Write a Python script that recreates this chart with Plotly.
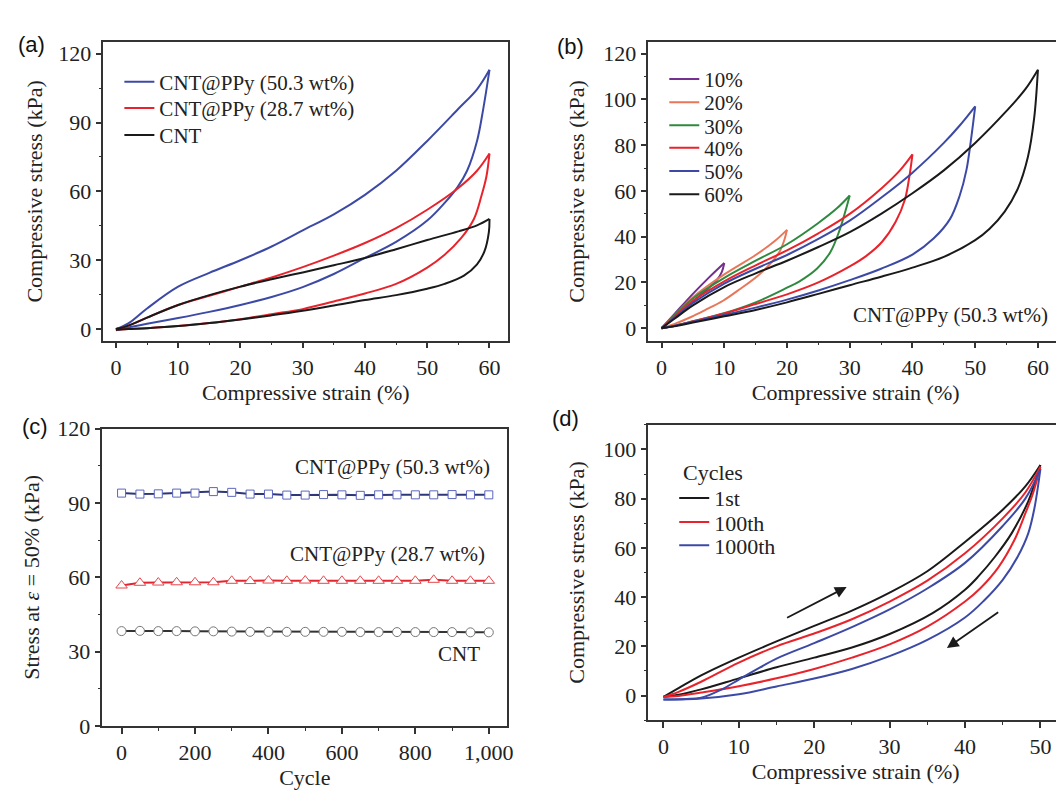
import plotly.graph_objects as go

# ---------------- Panel (a): strain (%) vs stress (kPa) ----------------
a_load_x = [0, 2, 5, 10, 15, 20, 25, 30, 35, 40, 45, 50, 55, 58, 60]
a_blue_load_y = [0, 2.5, 9, 18.5, 24.5, 30, 36, 43, 50, 58.5, 69, 82, 96, 104.5, 113]
a_red_load_y = [0, 1.5, 5, 10.5, 14.5, 18.5, 22.5, 27, 32, 37.5, 44, 52, 61.5, 69, 76.5]
a_black_load_y = [0, 1.5, 5, 10.5, 14.8, 18.5, 21.7, 24.7, 27.8, 31, 34.8, 38.8, 42.6, 45.2, 48]

a_blue_unload_x = [60, 59, 58, 56.4, 54.9, 52.8, 50, 45, 40, 35, 30, 25, 20, 15, 10, 5, 2, 0]
a_blue_unload_y = [113, 96, 82, 69, 62, 55, 47.3, 38, 31, 24, 18.3, 14, 10.5, 7.5, 4.8, 2.3, 0.7, -0.5]
a_red_unload_x = [60, 59.5, 58.7, 57.5, 55.4, 52.8, 50, 45, 40, 35, 30, 25, 20, 15, 10, 5, 2, 0]
a_red_unload_y = [76.5, 66.4, 58, 48, 39.5, 32.4, 26.8, 19.7, 15.5, 12, 8.7, 6.5, 4.3, 2.6, 1.3, 0.4, 0, -0.3]
a_black_unload_x = [60, 59.9, 59.2, 58, 55.9, 52.8, 50, 45, 40, 35, 30, 25, 20, 15, 10, 5, 2, 0]
a_black_unload_y = [48, 42.3, 34, 28.2, 23.3, 19.7, 17.6, 14.8, 12.7, 10.3, 8, 6, 4.2, 2.6, 1.3, 0.4, 0, -0.3]
a_names = ["CNT@PPy (50.3 wt%)", "CNT@PPy (28.7 wt%)", "CNT"]

# ---------------- Panel (b): different strain levels ----------------
b_names = ["10%", "20%", "30%", "40%", "50%", "60%"]
b10_load_x = [0, 2, 5, 7.5, 10]
b10_load_y = [0, 6, 15, 22, 28.5]
b10_unload_x = [10, 9.6, 8.8, 7.5, 6, 4.5, 3, 1.5, 0]
b10_unload_y = [28.5, 24.5, 21, 17.5, 14, 10.5, 7, 3.5, 0]
b20_load_x = [0, 2, 5, 10, 15, 18, 20]
b20_load_y = [0, 5.5, 13.5, 23.5, 32, 38, 43]
b20_unload_x = [20, 19.6, 18.9, 17.6, 15.5, 12.4, 9.8, 7, 4.7, 2, 0]
b20_unload_y = [43, 38.8, 33.9, 29, 23.3, 16.9, 12, 8, 4.9, 1.8, 0]
b30_load_x = [0, 2, 5, 10, 15, 20, 25, 28, 30]
b30_load_y = [0, 5.5, 13, 22, 29.5, 36.7, 46, 52.5, 58]
b30_unload_x = [30, 29.5, 28.4, 26.9, 24.8, 22, 20, 15, 9.8, 4.7, 2, 0]
b30_unload_y = [58, 53, 43, 33.2, 26.1, 20.5, 17.7, 11.3, 6.4, 2.8, 1, 0]
b40_load_x = [0, 2, 5, 10, 15, 20, 25, 30, 35, 38, 40]
b40_load_y = [0, 5, 12, 20.5, 27.5, 34, 41.5, 50, 61, 69, 76]
b40_unload_x = [40, 39.5, 38.8, 37.3, 35.2, 32.6, 30, 25, 20, 15, 10, 5, 2, 0]
b40_unload_y = [76, 66.2, 56.3, 46.4, 37.9, 31.5, 27, 20, 14.8, 10.6, 6.4, 3, 1, 0]
b50_load_x = [0, 2, 5, 10, 15, 20, 25, 30, 35, 40, 45, 47.5, 50]
b50_load_y = [0, 4.5, 11, 19.5, 26, 32, 39, 47, 57, 68, 81, 88.5, 97]
b50_unload_x = [50, 49.3, 48.6, 47.5, 46, 43.4, 40, 35, 30, 25, 20, 15, 10, 5, 2, 0]
b50_unload_y = [97, 81.8, 69.1, 57.7, 47.8, 39.3, 32.2, 26, 21, 16.5, 12.5, 9, 5.8, 2.8, 1, 0]
b60_load_x = [0, 2, 5, 10, 15, 20, 25, 30, 35, 40, 45, 50, 55, 58, 60]
b60_load_y = [0, 4, 10, 18, 24, 29.5, 35.5, 42, 50, 59, 69, 81, 95, 104.5, 113]
b60_unload_x = [60, 59.4, 58.4, 56.8, 54.7, 52.3, 50, 45, 40, 35, 30, 25, 20, 15, 10, 5, 2, 0]
b60_unload_y = [113, 91.8, 74.8, 61, 51, 43.5, 38.5, 31.2, 26.5, 22.5, 18.8, 15, 11.3, 8, 5.2, 2.5, 0.8, 0]

# ---------------- Panel (c): stress at 50% strain vs cycle ----------------
c_cycles = [0, 50, 100, 150, 200, 250, 300, 350, 400, 450, 500,
            550, 600, 650, 700, 750, 800, 850, 900, 950, 1000]
c_blue = [94.0, 93.6, 93.7, 94.0, 94.0, 94.6, 94.3, 93.6, 93.6, 93.2, 93.2,
          93.4, 93.3, 93.1, 93.3, 93.3, 93.3, 93.3, 93.4, 93.3, 93.3]
c_red = [56.7, 57.8, 57.9, 58.0, 58.0, 58.0, 58.6, 58.5, 58.7, 58.6, 58.7,
         58.6, 58.6, 58.6, 58.6, 58.6, 58.6, 59.0, 58.6, 58.6, 58.6]
c_black = [38.3, 38.4, 38.3, 38.3, 38.2, 38.2, 38.1, 38.0, 38.0, 38.0, 38.0,
           38.0, 38.0, 37.9, 37.9, 37.9, 37.9, 37.9, 37.9, 37.8, 37.8]
c_labels = ["CNT@PPy (50.3 wt%)", "CNT@PPy (28.7 wt%)", "CNT"]
c_label_x = [1008, 995, 982]
c_label_y = [104.5, 69.3, 28.9]

# ---------------- Panel (d): cycles 1st / 100th / 1000th ----------------
d_names = ["1st", "100th", "1000th"]
d_black_load_x = [0, 2, 5, 10, 15, 20, 25, 30, 35, 40, 45, 48, 50]
d_black_load_y = [-0.5, 3, 8.2, 15.4, 22, 28.3, 34.5, 41.8, 50.5, 62.4, 75.5, 85, 93.7]
d_black_unload_x = [50, 49, 48.4, 46.2, 44, 41.8, 40, 35.7, 30, 25, 20, 15, 10, 5, 2, 0]
d_black_unload_y = [93.7, 84, 79, 66, 56.5, 48.5, 43, 33.5, 25, 19.5, 15.4, 11.5, 7, 2.5, 0.3, -0.5]
d_red_load_x = [0, 2, 5, 10, 15, 20, 25, 30, 35, 40, 45, 48, 50]
d_red_load_y = [-0.6, 1.5, 5.6, 13.4, 20, 25.2, 31, 38.2, 46.7, 57.8, 72, 82.5, 93]
d_red_unload_x = [50, 49, 48, 46.6, 44.4, 42, 40, 35, 30, 25, 20, 15, 10, 5, 2, 0]
d_red_unload_y = [93, 82, 74, 63.5, 52, 43.5, 38.2, 28, 20.8, 15.4, 10.8, 7, 3.8, 1.2, -0.2, -0.6]
d_blue_load_x = [0, 3, 5, 7.6, 10, 12, 15, 20, 25, 30, 35, 40, 45, 48, 50]
d_blue_load_y = [-1.6, -1.4, -0.9, 2.3, 6.5, 10, 15, 21.3, 27.8, 35, 43.5, 53.9, 68.9, 80, 92]
d_blue_unload_x = [50, 49.2, 48.4, 47, 45, 42.5, 40, 35, 30, 25, 20, 15, 10, 5, 0]
d_blue_unload_y = [92, 76, 66, 56.5, 47, 38.5, 31.7, 22.6, 16, 10.8, 6.9, 3.7, 0.5, -1.2, -1.6]
d_arrow_tail_x = [16.2, 44.6]
d_arrow_tail_y = [31.3, 34.3]
d_arrow_head_x = [24.3, 37.6]
d_arrow_head_y = [44.1, 19.3]

# ---------------- styling ----------------
SERIF = "Liberation Serif"
SANS = "Liberation Sans"
AX = "#333333"
BLUE = "#3c4aa6"
RED = "#e8232b"
BLACK = "#1a1a1a"
PURPLE = "#74308f"
ORANGE = "#e8775a"
GREEN = "#2f8a3f"
LW = 2
W, H = 1064, 792


def px_x(p):
    return p / W


def px_y(p):
    return 1 - p / H


fig = go.Figure()
legends = {}
legend_counter = [0]


def new_legend(x_px, y_center_px, size):
    legend_counter[0] += 1
    key = "legend" if legend_counter[0] == 1 else "legend%d" % legend_counter[0]
    legends[key] = dict(x=px_x(x_px), y=px_y(y_center_px - 19), xanchor="left", yanchor="top",
                        bgcolor="rgba(0,0,0,0)", borderwidth=0, tracegroupgap=0,
                        font=dict(family=SERIF, size=size, color="#222"))
    return key


def loop(xl, yl, xu, yu, name, color, xa, ya, legend, width=LW):
    grp = name + xa
    fig.add_trace(go.Scatter(x=xl, y=yl, mode="lines", name=name, legendgroup=grp,
                             line=dict(color=color, width=width, shape="spline", smoothing=1.0),
                             xaxis=xa, yaxis=ya, legend=legend, showlegend=True))
    fig.add_trace(go.Scatter(x=xu, y=yu, mode="lines", name=name, legendgroup=grp,
                             line=dict(color=color, width=width, shape="spline", smoothing=1.0),
                             xaxis=xa, yaxis=ya, legend=legend, showlegend=False))


# (a)
a_rows = [62, 89, 117]
a_series = [
    (a_load_x, a_blue_load_y, a_blue_unload_x, a_blue_unload_y, BLUE),
    (a_load_x, a_red_load_y, a_red_unload_x, a_red_unload_y, RED),
    (a_load_x, a_black_load_y, a_black_unload_x, a_black_unload_y, BLACK),
]
for name, row, (xl, yl, xu, yu, col) in zip(a_names, a_rows, a_series):
    loop(xl, yl, xu, yu, name, col, "x", "y", new_legend(112, row, 21))

# (b)
b_rows = [59, 83, 107, 130, 154, 178]
b_series = [
    (b10_load_x, b10_load_y, b10_unload_x, b10_unload_y, PURPLE),
    (b20_load_x, b20_load_y, b20_unload_x, b20_unload_y, ORANGE),
    (b30_load_x, b30_load_y, b30_unload_x, b30_unload_y, GREEN),
    (b40_load_x, b40_load_y, b40_unload_x, b40_unload_y, RED),
    (b50_load_x, b50_load_y, b50_unload_x, b50_unload_y, BLUE),
    (b60_load_x, b60_load_y, b60_unload_x, b60_unload_y, BLACK),
]
for name, row, (xl, yl, xu, yu, col) in zip(b_names, b_rows, b_series):
    loop(xl, yl, xu, yu, name, col, "x2", "y2", new_legend(660, row, 21))

# (c)
fig.add_trace(go.Scatter(x=c_cycles, y=c_blue, mode="lines+markers", showlegend=False,
                         line=dict(color="#2f3778", width=2),
                         marker=dict(symbol="square", size=8, color="white",
                                     line=dict(color="#5b66bd", width=1)),
                         xaxis="x3", yaxis="y3"))
fig.add_trace(go.Scatter(x=c_cycles, y=c_red, mode="lines+markers", showlegend=False,
                         line=dict(color="#e0262e", width=2),
                         marker=dict(symbol="triangle-up", size=10, color="white",
                                     line=dict(color="#e8454b", width=1)),
                         xaxis="x3", yaxis="y3"))
fig.add_trace(go.Scatter(x=c_cycles, y=c_black, mode="lines+markers", showlegend=False,
                         line=dict(color="#333333", width=2),
                         marker=dict(symbol="circle", size=9, color="white",
                                     line=dict(color="#777777", width=1)),
                         xaxis="x3", yaxis="y3"))

# (d)
d_rows = [491, 516, 540]
d_series = [
    (d_black_load_x, d_black_load_y, d_black_unload_x, d_black_unload_y, BLACK),
    (d_red_load_x, d_red_load_y, d_red_unload_x, d_red_unload_y, RED),
    (d_blue_load_x, d_blue_load_y, d_blue_unload_x, d_blue_unload_y, BLUE),
]
for name, row, (xl, yl, xu, yu, col) in zip(d_names, d_rows, d_series):
    loop(xl, yl, xu, yu, name, col, "x4", "y4", new_legend(670, row, 22))


def axis(domain, rng, dtick, minor_dtick, title, anchor, standoff, tickformat=None):
    d = dict(domain=domain, range=rng, dtick=dtick, tick0=0, anchor=anchor,
             showline=True, mirror=True, linecolor=AX, linewidth=1.6,
             ticks="outside", ticklen=6, tickwidth=1.6, tickcolor=AX,
             showgrid=False, zeroline=False,
             tickfont=dict(family=SERIF, size=22, color="#222"),
             minor=dict(ticks="outside", ticklen=3, tickwidth=1.4, tickcolor=AX,
                        dtick=minor_dtick, tick0=0, showgrid=False),
             title=dict(text=title, font=dict(family=SERIF, size=22, color="#222"),
                        standoff=standoff))
    if tickformat:
        d["tickformat"] = tickformat
    return d


xa_dom = [px_x(96), px_x(503)]
xb_dom = [px_x(644), px_x(1061)]
xc_dom = [px_x(95), px_x(502)]
xd_dom = [px_x(644), px_x(1061)]
yab_dom = [px_y(331), px_y(23)]
yc_dom = [px_y(729), px_y(422)]
yd_dom = [px_y(723), px_y(418)]

fig.update_layout(
    width=W, height=H, margin=dict(l=0, r=0, t=0, b=0),
    paper_bgcolor="white", plot_bgcolor="white",
    xaxis=axis(xa_dom, [-2, 63], 10, 5, "Compressive strain (%)", "y", 4),
    yaxis=axis(yab_dom, [-5, 125], 30, 15, "Compressive stress (kPa)", "x", 10),
    xaxis2=axis(xb_dom, [-2.1, 64], 10, 5, "Compressive strain (%)", "y2", 4),
    yaxis2=axis(yab_dom, [-5.4, 125], 20, 10, "Compressive stress (kPa)", "x2", 12),
    xaxis3=axis(xc_dom, [-52, 1050], 200, 100, "Cycle", "y3", 4, tickformat=","),
    yaxis3=axis(yc_dom, [0, 120], 30, 15, "Stress at <i>ε</i> = 50% (kPa)", "x3", 12),
    xaxis4=axis(xd_dom, [-2, 53], 10, 5, "Compressive strain (%)", "y4", 4),
    yaxis4=axis(yd_dom, [-10, 110], 20, 10, "Compressive stress (kPa)", "x4", 12),
    **legends,
)

# legend heading in (d)
fig.add_annotation(text="Cycles", xref="paper", yref="paper", x=px_x(677), y=px_y(467),
                   xanchor="left", yanchor="middle", showarrow=False,
                   font=dict(family=SERIF, size=22, color="#222"))

# panel letters
for txt, xp, yp in [("(a)", 8, 25), ("(b)", 550, 27), ("(c)", 12, 420), ("(d)", 545, 412)]:
    fig.add_annotation(text=txt, xref="paper", yref="paper", x=px_x(xp), y=px_y(yp),
                       xanchor="left", yanchor="middle", showarrow=False,
                       font=dict(family=SANS, size=22, color="#111"))

# (b) sample label
fig.add_annotation(text="CNT@PPy (50.3 wt%)", xref="x2", yref="y2", x=62, y=5.6,
                   xanchor="right", yanchor="middle", showarrow=False,
                   font=dict(family=SERIF, size=21, color="#222"))

# (c) series labels
for txt, xv, yv in zip(c_labels, c_label_x, c_label_y):
    fig.add_annotation(text=txt, xref="x3", yref="y3", x=xv, y=yv,
                       xanchor="right", yanchor="middle", showarrow=False,
                       font=dict(family=SERIF, size=21, color="#222"))

# (d) direction arrows
for tx, ty, hx, hy in zip(d_arrow_tail_x, d_arrow_tail_y, d_arrow_head_x, d_arrow_head_y):
    fig.add_annotation(x=hx, y=hy, ax=tx, ay=ty, xref="x4", yref="y4", axref="x4", ayref="y4",
                       text="", showarrow=True, arrowhead=2, arrowsize=1.3, arrowwidth=1.8,
                       arrowcolor="#1a1a1a")

fig.write_html("out.html")
